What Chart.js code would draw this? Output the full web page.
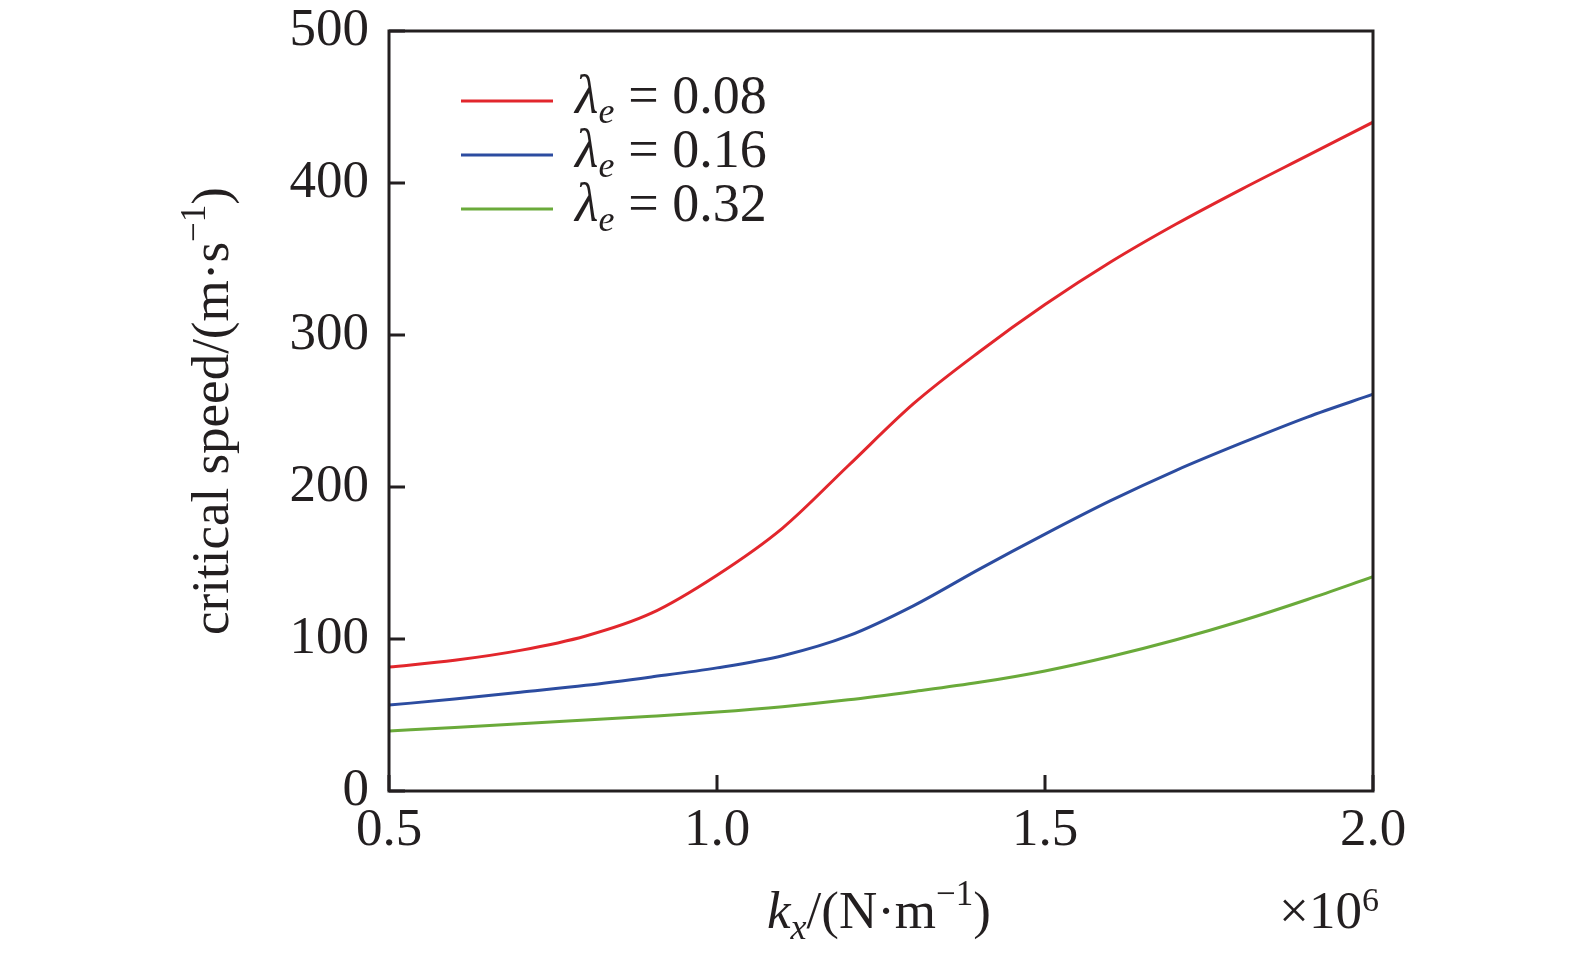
<!DOCTYPE html>
<html>
<head>
<meta charset="utf-8">
<script src="https://cdn.jsdelivr.net/npm/chart.js@4.4.1/dist/chart.umd.min.js"></script>
<style>
    html, body { margin: 0; padding: 0; background: #ffffff; }
    #wrap { position: relative; width: 1575px; height: 959px; }
</style>
</head>
<body>
<div id="wrap"><canvas id="speed-chart"></canvas></div>
<script>
// stiffness kx (x 10^6 N/m) and critical speed (m/s)
const kValues = [0.5, 0.6, 0.7, 0.8, 0.9, 1.0, 1.1, 1.2, 1.3, 1.4, 1.5, 1.6, 1.7, 1.8, 1.9, 2.0];
const speedLambda008 = [81.5, 86, 92.5, 102, 117, 142, 173, 214, 255, 289, 320, 348, 373, 396, 418, 440];
const speedLambda016 = [56.5, 60.5, 65, 69.5, 75, 81, 89, 102, 122, 146, 169, 191, 211, 229, 246, 261];
const speedLambda032 = [39.5, 41.8, 44.2, 46.7, 49.2, 52, 55.5, 60, 65.5, 71.5, 79, 88.5, 99.5, 112, 126, 141];
const legendValues = ['0.08', '0.16', '0.32'];
const xTicks = [0.5, 1.0, 1.5, 2.0];
const yTicks = [0, 100, 200, 300, 400, 500];

const INK = '#231f20';
const SERIF = '"Liberation Serif", "Times New Roman", serif';
const COLORS = ['rgb(226, 38, 44)', 'rgb(44, 76, 160)', 'rgb(106, 170, 58)'];

function toPoints(values) {
    return kValues.map((k, i) => ({ x: k, y: values[i] }));
}

// draw a run of text pieces (italic / sub / superscript) starting at x
function drawRich(ctx, x, y, parts, align) {
    const fontFor = (p) => `${p.italic ? 'italic ' : ''}${p.size}px ${SERIF}`;
    let total = 0;
    parts.forEach((p) => {
        ctx.font = fontFor(p);
        p.w = ctx.measureText(p.t).width;
        total += p.w + (p.gap || 0);
    });
    let cx = align === 'center' ? x - total / 2 : x;
    ctx.textAlign = 'left';
    ctx.textBaseline = 'alphabetic';
    parts.forEach((p) => {
        ctx.font = fontFor(p);
        ctx.fillText(p.t, cx, y + (p.dy || 0));
        cx += p.w + (p.gap || 0);
    });
}

const decorPlugin = {
    id: 'decor',
    afterDatasetsDraw(chart) {
        const { ctx, chartArea } = chart;
        const xs = chart.scales.x;
        const ys = chart.scales.y;
        ctx.save();
        ctx.strokeStyle = INK;
        ctx.lineWidth = 3;
        ctx.strokeRect(chartArea.left, chartArea.top, chartArea.right - chartArea.left, chartArea.bottom - chartArea.top);

        // inward tick marks
        ctx.beginPath();
        yTicks.forEach((v) => {
            const py = ys.getPixelForValue(v);
            ctx.moveTo(chartArea.left, py);
            ctx.lineTo(chartArea.left + 16, py);
        });
        xTicks.forEach((v) => {
            const px = xs.getPixelForValue(v);
            ctx.moveTo(px, chartArea.bottom);
            ctx.lineTo(px, chartArea.bottom - 16);
        });
        ctx.stroke();

        // legend
        ctx.fillStyle = INK;
        chart.data.datasets.forEach((ds, i) => {
            const base = 113 + i * 54;
            ctx.strokeStyle = ds.borderColor;
            ctx.lineWidth = 3;
            ctx.beginPath();
            ctx.moveTo(461, base - 12);
            ctx.lineTo(553, base - 12);
            ctx.stroke();
            drawRich(ctx, 575, base, [
                { t: 'λ', size: 54, italic: true },
                { t: 'e', size: 36, italic: true, dy: 10, gap: 14 },
                { t: '= ' + legendValues[i], size: 54 }
            ], 'left');
        });

        // x axis title and multiplier
        const midX = (chartArea.left + chartArea.right) / 2;
        drawRich(ctx, midX - 2, 928, [
            { t: 'k', size: 53, italic: true },
            { t: 'x', size: 36, italic: true, dy: 11 },
            { t: '/(N·m', size: 53 },
            { t: '−1', size: 35, dy: -23 },
            { t: ')', size: 53 }
        ], 'center');
        drawRich(ctx, 1279, 928, [
            { t: '×10', size: 53 },
            { t: '6', size: 34, dy: -17 }
        ], 'left');

        // y axis title
        ctx.translate(228, (chartArea.top + chartArea.bottom) / 2);
        ctx.rotate(-Math.PI / 2);
        drawRich(ctx, 0, 0, [
            { t: 'critical speed/(m·s', size: 53 },
            { t: '−1', size: 35, dy: -23 },
            { t: ')', size: 53 }
        ], 'center');
        ctx.restore();
    }
};

const datasets = [speedLambda008, speedLambda016, speedLambda032].map((values, i) => ({
    label: 'λe = ' + legendValues[i],
    data: toPoints(values),
    borderColor: COLORS[i],
    backgroundColor: COLORS[i],
    borderWidth: 3,
    pointRadius: 0,
    fill: false,
    cubicInterpolationMode: 'monotone'
}));

new Chart(document.getElementById('speed-chart'), {
    type: 'line',
    data: { datasets },
    plugins: [decorPlugin],
    options: {
        responsive: true,
        maintainAspectRatio: false,
        animation: false,
        layout: { padding: { left: 0, right: 202, top: 31, bottom: 0 } },
        plugins: {
            legend: { display: false },
            tooltip: { enabled: false }
        },
        scales: {
            x: {
                type: 'linear',
                min: 0.5,
                max: 2.0,
                afterFit: (scale) => {
                    scale.height = 168;
                    scale.paddingLeft = 0;
                    scale.paddingRight = 0;
                },
                afterBuildTicks: (scale) => { scale.ticks = xTicks.map((v) => ({ value: v })); },
                grid: { display: false, drawTicks: false },
                border: { display: false },
                ticks: {
                    color: INK,
                    padding: 8,
                    maxRotation: 0,
                    font: { family: SERIF, size: 53, lineHeight: 1.2 },
                    callback: (v) => Number(v).toFixed(1)
                }
            },
            y: {
                min: 0,
                max: 500,
                afterFit: (scale) => {
                    scale.width = 389;
                    scale.paddingTop = 0;
                    scale.paddingBottom = 0;
                },
                afterBuildTicks: (scale) => { scale.ticks = yTicks.map((v) => ({ value: v })); },
                grid: { display: false, drawTicks: false },
                border: { display: false },
                ticks: {
                    color: INK,
                    padding: 20,
                    font: { family: SERIF, size: 53, lineHeight: 1.0 }
                }
            }
        }
    }
});
</script>
</body>
</html>
